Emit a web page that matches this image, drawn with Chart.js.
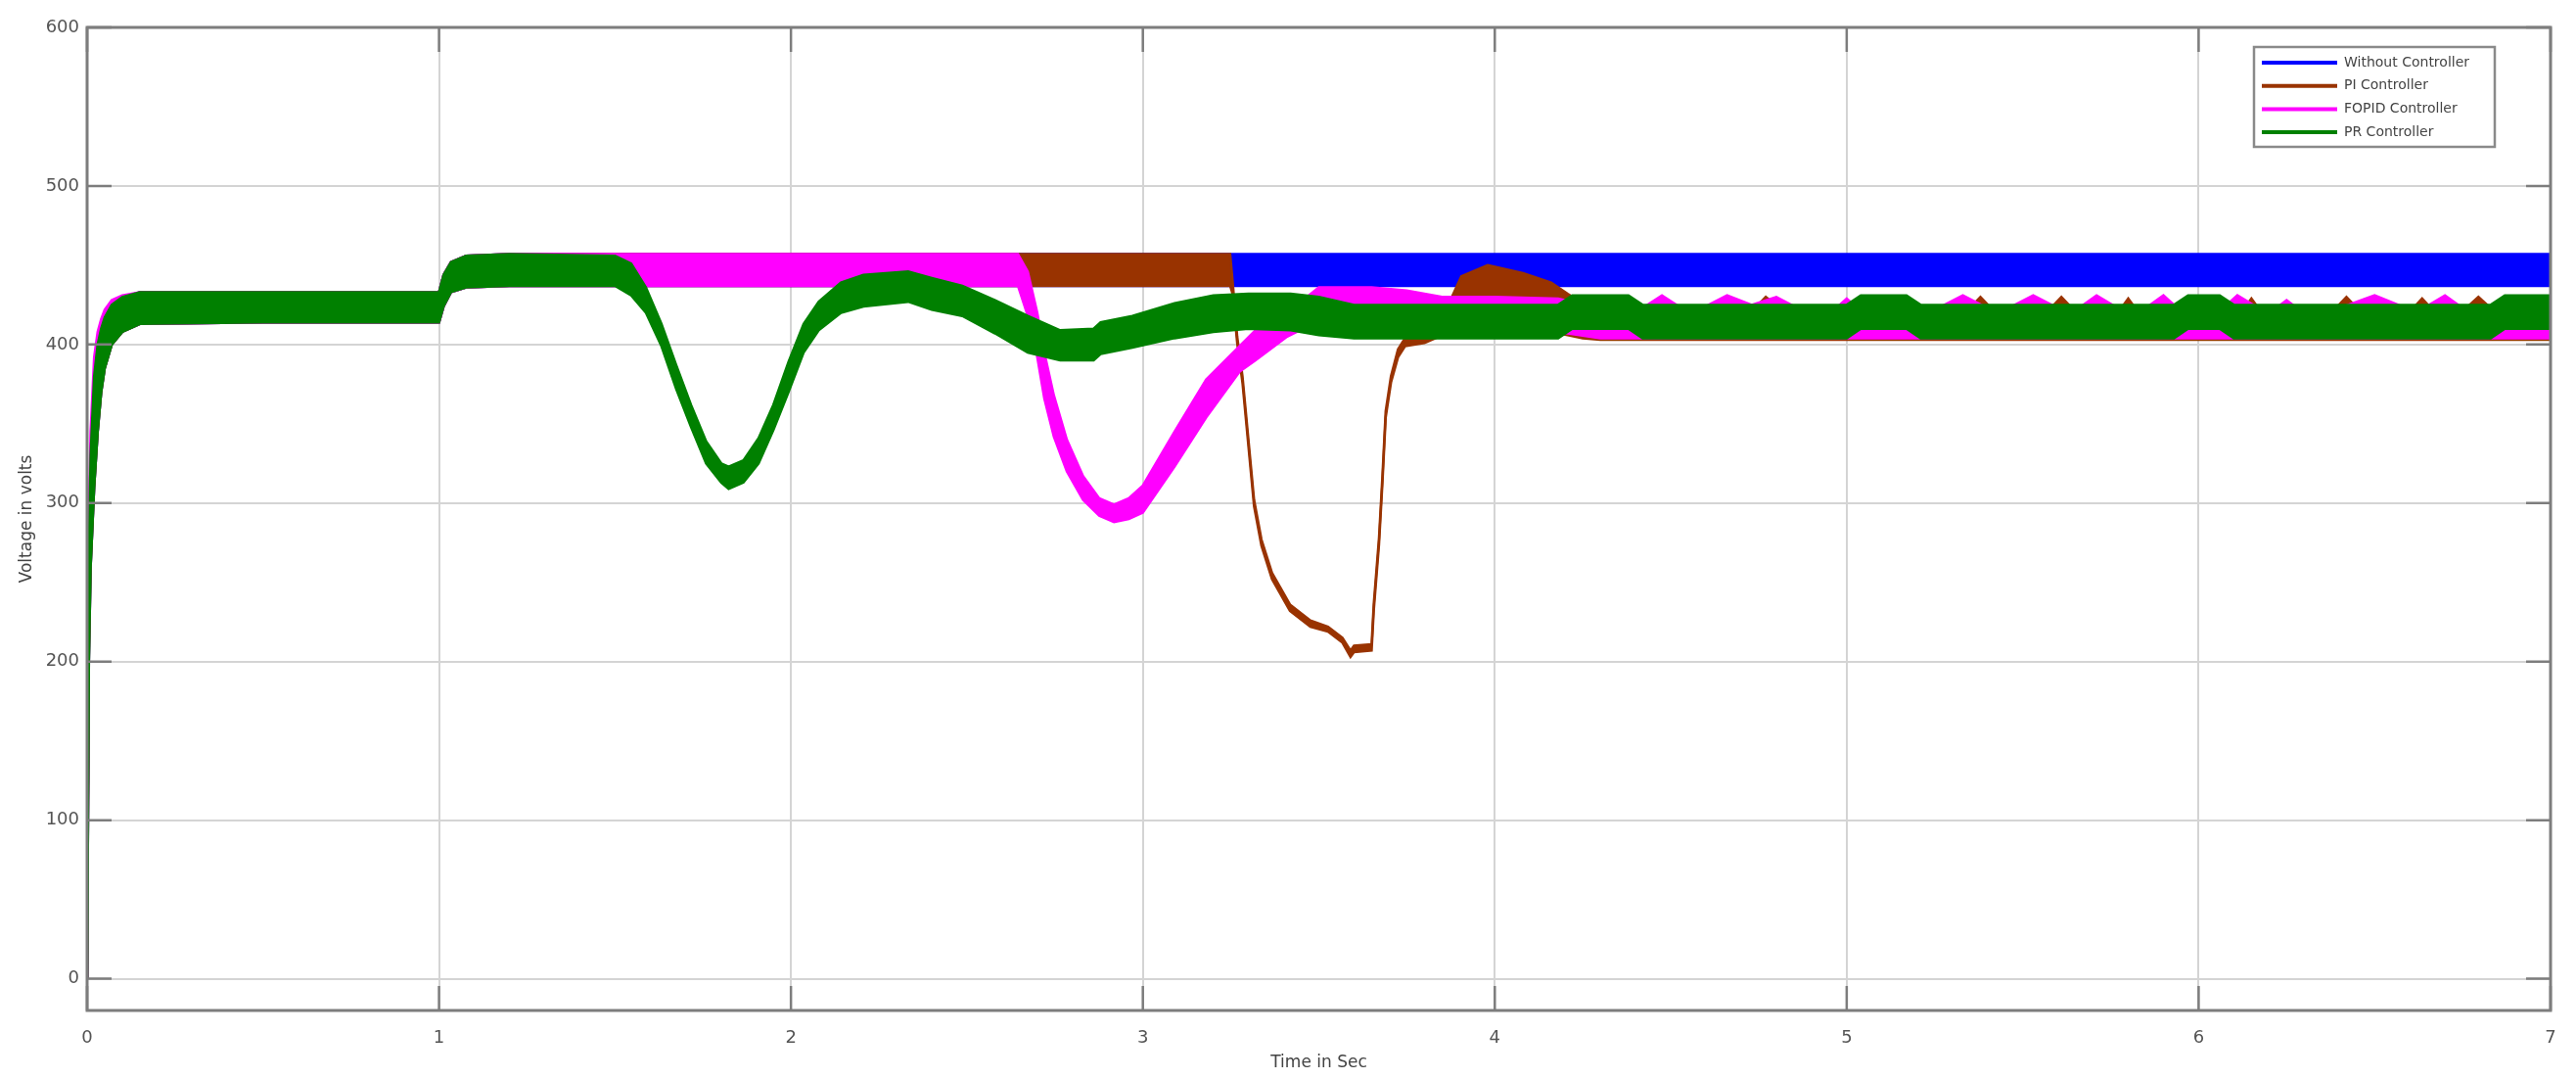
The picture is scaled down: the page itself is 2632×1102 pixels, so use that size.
<!DOCTYPE html>
<html>
<head>
<meta charset="utf-8">
<script src="https://cdn.jsdelivr.net/npm/chart.js@4"></script>
<style>
  html, body { margin: 0; padding: 0; background: #fff; }
  canvas { display: block; }
</style>
</head>
<body>
<canvas id="chart" width="2632" height="1102"></canvas>
<script>
// ── DATA (envelope of the ripple band) ──────────────────────────────
const xTicks = [0, 1, 2, 3, 4, 5, 6, 7];
const yTicks = [0, 100, 200, 300, 400, 500, 600];

// start-up segment shared by all controllers (0 .. 1.2 s)
const startT     = [0, 0.005, 0.01, 0.02, 0.03, 0.04, 0.05, 0.07, 0.1, 0.15, 0.5, 1.0, 1.013, 1.034, 1.077, 1.2];
const startUpper = [0, 270, 330, 380, 400, 410, 417, 425, 430, 433, 433, 433, 444, 452, 456, 457];
const startLower = [0, 200, 260, 310, 345, 370, 385, 400, 408, 413, 414, 414, 424, 433, 436, 437];
const pinkStartUpper = [0, 290, 345, 392, 408, 416, 422, 428, 431, 433, 433, 433, 444, 452, 456, 457];
const pinkStartLower = [0, 215, 275, 322, 355, 376, 389, 402, 409, 413, 414, 414, 424, 433, 436, 437];

// Without Controller
const blueT     = [7.0];
const blueUpper = [457];
const blueLower = [437];

// PI Controller
const piT = [3.248, 3.255, 3.268, 3.283, 3.316, 3.337, 3.367, 3.418, 3.476, 3.526, 3.567, 3.59, 3.60, 3.65,
  3.656, 3.671, 3.681, 3.69, 3.705, 3.725, 3.745, 3.80, 3.874, 3.905, 3.98, 4.08, 4.16, 4.207, 4.25, 4.3,
  4.74, 4.77, 4.81, 5.35, 5.38, 5.41, 5.58, 5.61, 5.64, 5.78, 5.80, 5.82, 6.13, 6.15, 6.17,
  6.39, 6.42, 6.45, 6.61, 6.635, 6.66, 6.76, 6.795, 6.83, 7.0];
const piUpper = [457, 440, 405, 380, 302, 277, 256, 236, 226, 222, 215, 207, 210, 211,
  236, 278, 318, 358, 380, 397, 404, 415, 428, 443, 450, 445, 439, 432, 426, 423,
  423, 430, 423, 423, 430, 423, 423, 430, 423, 423, 429, 423, 423, 429, 423,
  423, 430, 423, 423, 429, 423, 423, 430, 423, 423];
const piLower = [437, 432, 401, 376, 298, 273, 252, 232, 222, 219, 212, 203, 206, 207,
  232, 274, 314, 354, 376, 392, 399, 401, 408, 410, 412, 410, 408, 406, 404, 403,
  403, 403, 403, 403, 403, 403, 403, 403, 403, 403, 403, 403, 403, 403, 403,
  403, 403, 403, 403, 403, 403, 403, 403, 403, 403];

// FOPID Controller
const fopidT = [2.63, 2.645, 2.673, 2.70, 2.72, 2.747, 2.784, 2.83, 2.876, 2.918, 2.96, 3.0, 3.09, 3.18,
  3.275, 3.32, 3.41, 3.5, 3.65, 3.75, 3.85, 4.0, 4.18, 4.3, 4.42, 4.475, 4.53, 4.59, 4.66, 4.73,
  4.80, 4.86, 4.97, 5.0, 5.03, 5.26, 5.33, 5.40, 5.46, 5.53, 5.60, 5.66, 5.71, 5.77, 5.85,
  5.90, 5.94, 6.07, 6.11, 6.17, 6.22, 6.25, 6.28, 6.40, 6.50, 6.59, 6.64, 6.70, 6.75, 7.0];
const fopidUpper = [457, 457, 446, 420, 395, 368, 340, 317, 303, 299, 303, 311, 345, 378,
  399, 409, 420, 436, 436, 434, 430, 430, 429, 423, 423, 431, 423, 423, 431, 425,
  430, 423, 423, 429, 423, 423, 431, 423, 423, 431, 423, 423, 431, 423, 423,
  431, 423, 423, 431, 423, 423, 428, 423, 423, 431, 423, 423, 431, 423, 423];
const fopidLower = [437, 437, 418, 392, 366, 342, 320, 302, 292, 288, 290, 294, 323, 354,
  383, 390, 405, 415, 416, 414, 410, 410, 408, 404, 404, 404, 404, 404, 404, 404,
  404, 404, 404, 404, 404, 404, 404, 404, 404, 404, 404, 404, 404, 404, 404,
  404, 404, 404, 404, 404, 404, 404, 404, 404, 404, 404, 404, 404, 404, 404];

// PR Controller
const prT = [1.5, 1.546, 1.588, 1.632, 1.674, 1.716, 1.759, 1.802, 1.823, 1.865, 1.908, 1.95, 1.993, 2.036,
  2.079, 2.142, 2.206, 2.333, 2.4, 2.487, 2.58, 2.673, 2.765, 2.86, 2.88, 2.97, 3.09, 3.2, 3.3, 3.42,
  3.5, 3.6, 4.18, 4.22, 4.38, 4.42, 5.0, 5.04, 5.17, 5.21, 5.93, 5.97, 6.06, 6.1, 6.83, 6.87, 7.0];
const prUpper = [456, 451, 436, 413, 387, 362, 339, 325, 323, 327, 341, 362, 389, 413,
  427, 439, 444, 446, 442, 437, 428, 418, 409, 410, 414, 418, 426, 431, 432, 432,
  430, 425, 425, 431, 431, 425, 425, 431, 431, 425, 425, 431, 431, 425, 425, 431, 431];
const prLower = [437, 431, 420, 399, 372, 348, 325, 313, 309, 313, 325, 346, 370, 395,
  409, 420, 424, 427, 422, 418, 407, 395, 390, 390, 394, 398, 404, 408, 410, 409,
  406, 404, 404, 410, 410, 404, 404, 410, 410, 404, 404, 410, 410, 404, 404, 410, 410];

const seriesNames  = ['Without Controller', 'PI Controller', 'FOPID Controller', 'PR Controller'];
const seriesColors = ['#0000ff', '#993300', '#ff00ff', '#008000'];

// ── HELPERS ─────────────────────────────────────────────────────────
const FONT = "'DejaVu Sans', sans-serif";

function pts(ts, vs) {
  return ts.map((t, i) => ({ x: t, y: vs[i] }));
}

// each controller = upper edge line + lower edge line filled to it
function band(name, color, ts, up, lo) {
  return [
    { label: name, data: pts(ts, up), borderColor: color, backgroundColor: color,
      borderWidth: 2.5, pointRadius: 0, fill: false, tension: 0 },
    { label: '', data: pts(ts, lo), borderColor: color, backgroundColor: color,
      borderWidth: 2.5, pointRadius: 0, fill: '-1', tension: 0 }
  ];
}

const series = [
  { t: startT.concat(blueT),   up: startUpper.concat(blueUpper),      lo: startLower.concat(blueLower) },
  { t: startT.concat(piT),     up: startUpper.concat(piUpper),        lo: startLower.concat(piLower) },
  { t: startT.concat(fopidT),  up: pinkStartUpper.concat(fopidUpper), lo: pinkStartLower.concat(fopidLower) },
  { t: startT.concat(prT),     up: startUpper.concat(prUpper),        lo: startLower.concat(prLower) }
];

// dataset 0 is painted last (on top) -> PR first, Without Controller last
const datasets = [];
for (let i = series.length - 1; i >= 0; i--) {
  datasets.push(...band(seriesNames[i], seriesColors[i], series[i].t, series[i].up, series[i].lo));
}

// ── MATLAB-style box with inward ticks ──────────────────────────────
const framePlugin = {
  id: 'frame',
  afterDatasetsDraw(chart) {
    const { ctx, chartArea: a, scales: { x, y } } = chart;
    ctx.save();
    ctx.strokeStyle = '#7d7d7d';
    ctx.lineWidth = 2.5;
    ctx.beginPath();
    y.ticks.forEach(tk => {
      const py = y.getPixelForValue(tk.value);
      ctx.moveTo(a.left, py); ctx.lineTo(a.left + 25, py);
      ctx.moveTo(a.right, py); ctx.lineTo(a.right - 25, py);
    });
    x.ticks.forEach(tk => {
      const px = x.getPixelForValue(tk.value);
      ctx.moveTo(px, a.bottom); ctx.lineTo(px, a.bottom - 25);
      ctx.moveTo(px, a.top); ctx.lineTo(px, a.top + 25);
    });
    ctx.stroke();
    ctx.lineWidth = 3;
    ctx.strokeRect(a.left, a.top, a.right - a.left, a.bottom - a.top);
    ctx.restore();
  }
};

// legend box drawn inside the plot, top right
const legendPlugin = {
  id: 'legendBox',
  afterDraw(chart) {
    const { ctx, chartArea: a } = chart;
    const w = 246, h = 102;
    const left = a.right - 303, top = a.top + 20;
    ctx.save();
    ctx.fillStyle = '#fff';
    ctx.fillRect(left, top, w, h);
    ctx.strokeStyle = '#8a8a8a';
    ctx.lineWidth = 2.5;
    ctx.strokeRect(left, top, w, h);
    ctx.font = '14px ' + FONT;
    ctx.textBaseline = 'middle';
    seriesNames.forEach((name, i) => {
      const yy = top + 16 + i * 23.7;
      ctx.strokeStyle = seriesColors[i];
      ctx.lineWidth = 4;
      ctx.beginPath();
      ctx.moveTo(left + 8, yy); ctx.lineTo(left + 85, yy);
      ctx.stroke();
      ctx.fillStyle = '#444';
      ctx.fillText(name, left + 92, yy);
    });
    ctx.restore();
  }
};

new Chart(document.getElementById('chart'), {
  type: 'line',
  data: { datasets },
  options: {
    responsive: false,
    devicePixelRatio: 1,
    animation: false,
    layout: { padding: { top: 28, right: 26, left: 0, bottom: 0 } },
    scales: {
      x: {
        type: 'linear', min: 0, max: 7,
        afterBuildTicks: s => { s.ticks = xTicks.map(v => ({ value: v })); },
        afterFit: s => { s.height = 70; },
        grid: { color: '#d4d4d4', lineWidth: 2, drawTicks: false },
        border: { display: false },
        ticks: { color: '#555', font: { family: FONT, size: 18 }, padding: 18 },
        title: { display: true, text: 'Time in Sec', color: '#444',
                 font: { family: FONT, size: 17 }, padding: { top: 0, bottom: 6 } }
      },
      y: {
        type: 'linear', min: -20, max: 600,
        afterBuildTicks: s => { s.ticks = yTicks.map(v => ({ value: v })); },
        afterFit: s => { s.width = 89; },
        grid: { color: '#d4d4d4', lineWidth: 2, drawTicks: false },
        border: { display: false },
        ticks: { color: '#555', font: { family: FONT, size: 18 }, padding: 8 },
        title: { display: true, text: 'Voltage in volts', color: '#444',
                 font: { family: FONT, size: 17 }, padding: { top: 17, bottom: 0 } }
      }
    },
    plugins: {
      legend: { display: false },
      tooltip: { enabled: false }
    }
  },
  plugins: [framePlugin, legendPlugin]
});
</script>
</body>
</html>
